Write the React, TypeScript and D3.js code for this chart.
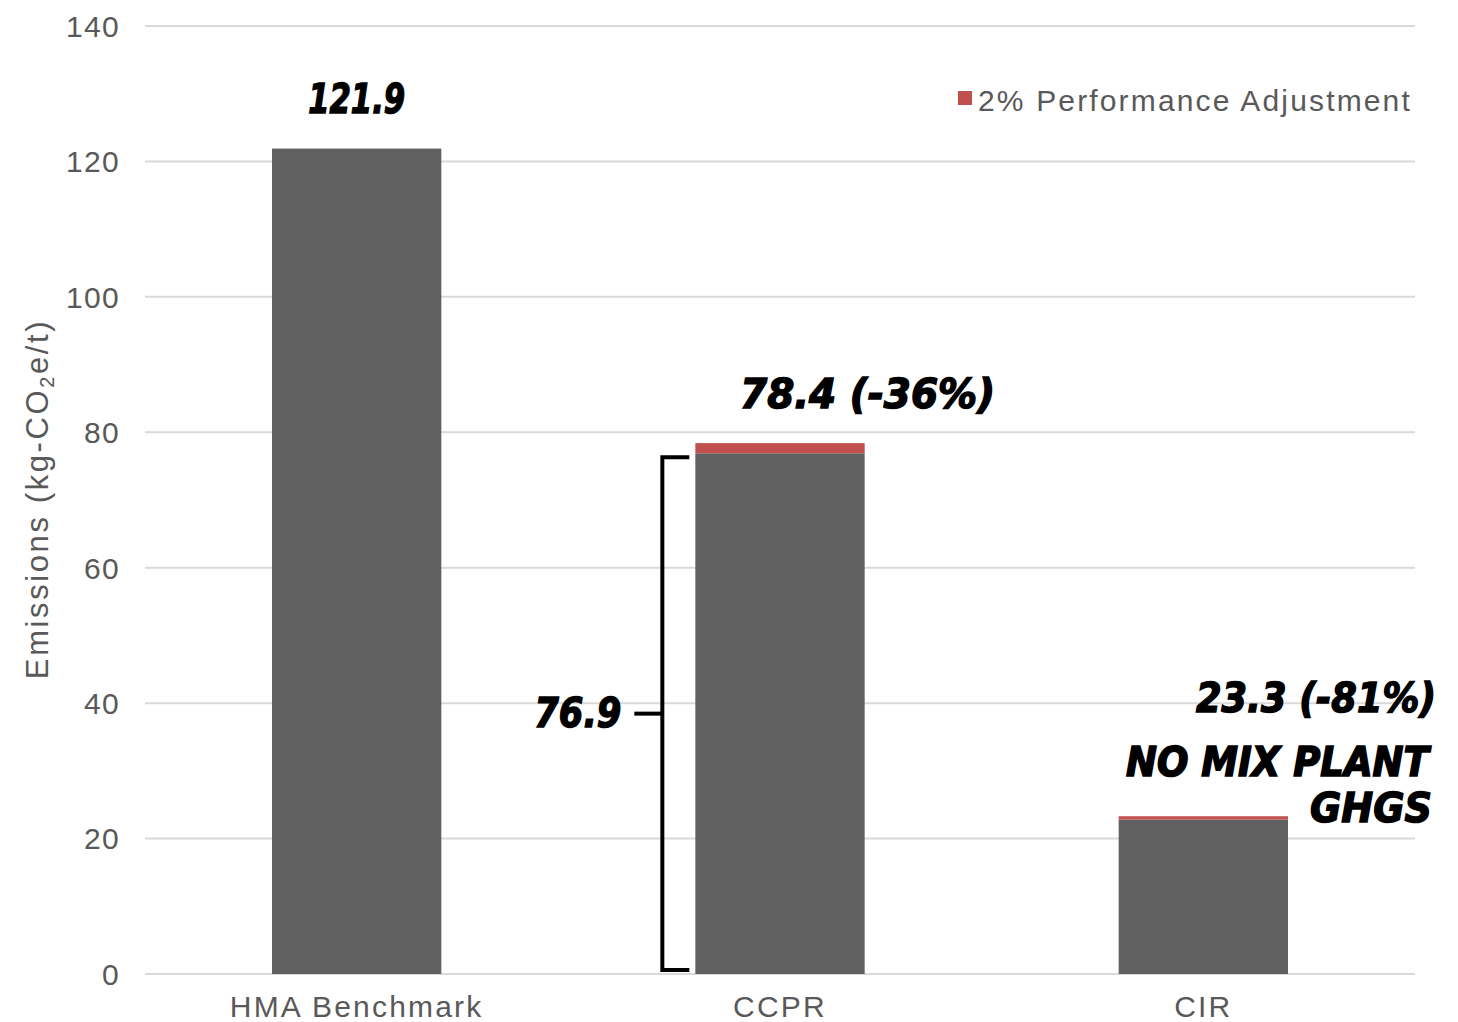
import React from "react";
import * as d3 from "d3";

const categories = ["HMA Benchmark", "CCPR", "CIR"];
const baseValues = [121.9, 76.9, 22.8];
const adjustValues = [0, 1.5, 0.5];
const yTicks = [0, 20, 40, 60, 80, 100, 120, 140];
const legendLabel = "2% Performance Adjustment";
const totalLabels = ["121.9", "78.4 (-36%)", "23.3 (-81%)"];
const bracketLabel = "76.9";
const noteLines = ["NO MIX PLANT", "GHGS"];

const W = 1458;
const H = 1022;
const GRAY = "#606060";
const RED = "#c0504d";
const TEXT = "#595959";
const GRID = "#d9d9d9";
const FONT = "'Liberation Sans', Arial, sans-serif";
const HAND = "'DejaVu Sans', sans-serif";

export default function App() {
  const y = d3.scaleLinear().domain([0, 140]).range([974, 26]);
  const x = d3
    .scaleBand<string>()
    .domain(categories)
    .range([145, 1415])
    .paddingInner(0.6)
    .paddingOuter(0.3);
  const bw = x.bandwidth();
  const cx = (c: string) => (x(c) as number) + bw / 2;

  const ccprLeft = x("CCPR") as number;
  const brX = ccprLeft - 33;
  const brTop = y(baseValues[1]) + 4;
  const brBot = y(0) - 4;
  const brMid = y(baseValues[1] / 2);

  const handStyle: React.CSSProperties = {
    fontFamily: HAND,
    fontWeight: "bold",
    fontStyle: "italic",
    fill: "#000",
    stroke: "#000",
    strokeWidth: 1.5,
  };

  return (
    <svg
      width={W}
      height={H}
      style={{ position: "absolute", left: 0, top: 0, background: "#fff" }}
    >
      {yTicks.map((t) => (
        <line
          key={t}
          x1={145}
          x2={1415}
          y1={y(t)}
          y2={y(t)}
          stroke={GRID}
          strokeWidth={2}
        />
      ))}
      {yTicks.map((t) => (
        <text
          key={"l" + t}
          x={120}
          y={y(t)}
          dy="0.36em"
          textAnchor="end"
          fontFamily={FONT}
          fontSize={30}
          letterSpacing={1.3}
          fill={TEXT}
        >
          {t}
        </text>
      ))}
      <text
        transform={`translate(48,499) rotate(-90)`}
        textAnchor="middle"
        fontFamily={FONT}
        fontSize={31}
        letterSpacing={2.6}
        fill={TEXT}
      >
        Emissions (kg-CO
        <tspan fontSize={20} dy={6}>
          2
        </tspan>
        <tspan dy={-6}>e/t)</tspan>
      </text>
      {categories.map((c, i) => (
        <g key={c}>
          <rect
            x={x(c)}
            y={y(baseValues[i])}
            width={bw}
            height={y(0) - y(baseValues[i])}
            fill={GRAY}
          />
          {adjustValues[i] > 0 && (
            <rect
              x={x(c)}
              y={y(baseValues[i] + adjustValues[i])}
              width={bw}
              height={y(baseValues[i]) - y(baseValues[i] + adjustValues[i])}
              fill={RED}
            />
          )}
        </g>
      ))}
      {categories.map((c) => (
        <text
          key={"x" + c}
          x={cx(c)}
          y={1017}
          textAnchor="middle"
          fontFamily={FONT}
          fontSize={30}
          letterSpacing={2.2}
          fill={TEXT}
        >
          {c}
        </text>
      ))}
      <rect x={958} y={91} width={14} height={14} fill={RED} />
      <text
        x={978}
        y={111}
        fontFamily={FONT}
        fontSize={30}
        letterSpacing={2.15}
        fill={TEXT}
      >
        {legendLabel}
      </text>
      <path
        d={`M${ccprLeft - 6},${brTop} H${brX} V${brBot} H${ccprLeft - 6}`}
        fill="none"
        stroke="#000"
        strokeWidth={4}
      />
      <line
        x1={brX - 28}
        x2={brX}
        y1={brMid}
        y2={brMid}
        stroke="#000"
        strokeWidth={4}
      />
      <text
        x={cx("HMA Benchmark")}
        y={y(baseValues[0]) - 36}
        textAnchor="middle"
        fontSize={40}
        textLength={97}
        lengthAdjust="spacingAndGlyphs"
        style={handStyle}
      >
        {totalLabels[0]}
      </text>
      <text
        x={740}
        y={y(baseValues[1] + adjustValues[1]) - 35}
        fontSize={40}
        textLength={255}
        lengthAdjust="spacingAndGlyphs"
        style={handStyle}
      >
        {totalLabels[1]}
      </text>
      <text
        x={brX - 128}
        y={brMid + 13}
        fontSize={40}
        textLength={87}
        lengthAdjust="spacingAndGlyphs"
        style={handStyle}
      >
        {bracketLabel}
      </text>
      <text
        x={1196}
        y={712}
        fontSize={40}
        textLength={240}
        lengthAdjust="spacingAndGlyphs"
        style={handStyle}
      >
        {totalLabels[2]}
      </text>
      <text
        transform="translate(1126,776) scale(1,1.12)"
        x={0}
        y={0}
        fontSize={37}
        style={handStyle}
      >
        {noteLines[0]}
      </text>
      <text
        x={1310}
        y={822}
        fontSize={40}
        textLength={122}
        lengthAdjust="spacingAndGlyphs"
        style={handStyle}
      >
        {noteLines[1]}
      </text>
    </svg>
  );
}
